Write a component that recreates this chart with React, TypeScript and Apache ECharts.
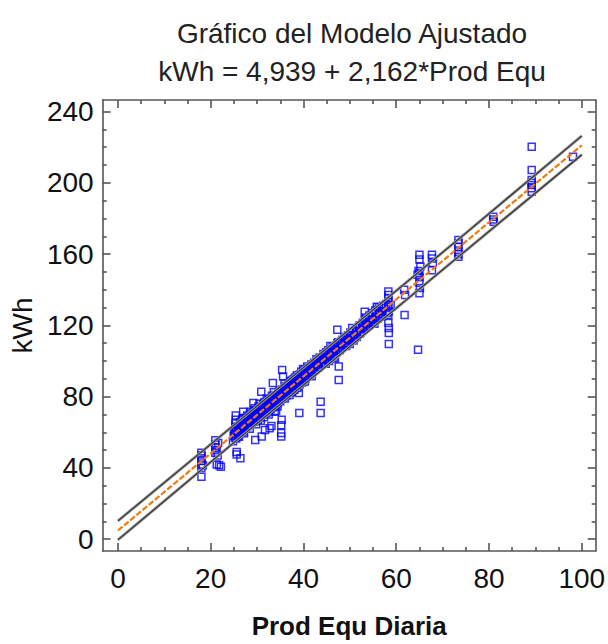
import React, { useEffect, useRef } from "react";
import * as echarts from "echarts";

// ---- data ----
const titleLines = ["Gráfico del Modelo Ajustado", "kWh = 4,939 + 2,162*Prod Equ"];
const xName = "Prod Equ Diaria";
const yName = "kWh";

const xMajorTicks = [0, 20, 40, 60, 80, 100];
const xMinorTicks = [5, 10, 15, 25, 30, 35, 45, 50, 55, 65, 70, 75, 85, 90, 95];
const yMajorTicks = [0, 40, 80, 120, 160, 200, 240];
const yMinorTicks = [10, 20, 30, 50, 60, 70, 90, 100, 110, 130, 140, 150, 170, 180, 190, 210, 220, 230];

// fitted model line
const fitX = [0, 100];
const fitY = [4.9, 221.1];

// prediction limits
const bandX = [0, 25, 50, 75, 100];
const bandUpper = [10.3, 64.0, 117.9, 171.8, 226.4];
const bandLower = [-0.4, 54.2, 108.1, 162.0, 215.8];

// observations [Prod Equ Diaria, kWh]
const observations: [number, number][] = [
  [18, 35], [18, 40], [18, 42], [18, 44], [18, 45.5], [18, 47], [18, 48.5], [18.3, 41.5],
  [21, 55.5], [21, 53], [21, 51.5], [21.3, 50], [21, 48.5], [21.5, 47], [21.3, 42], [22.2, 40.7], [21.8, 41.5], [21.6, 54],
  [24.8, 55], [25.2, 57], [25.3, 59], [25.3, 61], [25.3, 63], [25.3, 65], [25.4, 67], [25.4, 69.5], [25.6, 49], [25.6, 47.5],
  [26.4, 45.5], [25.9, 58], [26, 60.5], [26.2, 62.5], [26.5, 60], [26.6, 64], [26.8, 66], [27, 62], [27, 68], [27, 71.5],
  [27.4, 64.5], [27.6, 66.5], [27.8, 63], [28, 67], [28.2, 69], [28.3, 65.5], [28.6, 70.5], [28.8, 67.5], [26.1, 57.5], [27.2, 59.5],
  [29, 68], [29.2, 70], [29.2, 76.5], [29.4, 66], [29.6, 55.7], [29.7, 72], [30, 69], [30, 71.5], [30.2, 67], [30.4, 73],
  [30.6, 70], [30.9, 82.8], [31, 57.6], [31, 74], [31.2, 71], [31.4, 76], [31.7, 61.3], [31.8, 73], [32, 75.5], [32.2, 72.5],
  [32.4, 78], [32.7, 62.3], [32.8, 75], [33, 77], [33.1, 63.5], [33.3, 74], [33.4, 87.7], [33.5, 79.5], [33.8, 71.6], [33.8, 76.5],
  [34, 81], [34.2, 78], [34.4, 74.5], [34.6, 80], [34.8, 83], [35, 77.5], [35.2, 59.6], [35.2, 57.6], [35.2, 64], [35.3, 67],
  [35.4, 95], [35.6, 91.3], [35.5, 81.5], [35.8, 84], [36, 79], [36.2, 86], [36.4, 82], [36.6, 84.5], [36.8, 87.5], [37, 81],
  [37.2, 85.5], [37.4, 89], [37.6, 83], [37.8, 87], [38, 90], [38.2, 85], [38.4, 88.5], [38.6, 92], [38.8, 86.5], [39, 82],
  [39.1, 70.9], [39, 89.5], [39.3, 91], [39.5, 94], [39.7, 88], [40, 92.5], [40.2, 95], [40.4, 90], [40.6, 93.5], [40.8, 97],
  [29.8, 64.5], [30.5, 76], [31.5, 68.5], [32.5, 70], [33.2, 80.5], [34.1, 72], [34.9, 78.5], [35.9, 87.5], [36.9, 83.5], [37.9, 84],
  [28.4, 62], [29.5, 73.5], [30.8, 66.5], [32.1, 79], [33.6, 82.5], [34.5, 76.5], [36.1, 81], [37.1, 88.5], [38.5, 86], [39.8, 90.5],
  [25, 58], [25, 60], [25.5, 62.5], [25.5, 56.5], [26, 63], [26, 59.5], [26.3, 65.5], [26.3, 61], [26.7, 62], [26.7, 67],
  [27.1, 64], [27.1, 60.5], [27.5, 68], [27.5, 62.5], [27.9, 65.5], [27.9, 69.5], [28.1, 64], [28.1, 68], [28.5, 66], [28.5, 71.5],
  [28.9, 70], [28.9, 66.5], [29.3, 69], [29.3, 72], [29.6, 67.5], [29.6, 71], [30.1, 72.5], [30.1, 68], [30.3, 70.5], [30.3, 74.5],
  [30.7, 72], [30.7, 68.5], [31.1, 73], [31.1, 70], [31.3, 75.5], [31.3, 71.5], [31.6, 72.5], [31.6, 77], [32, 73.5], [32, 71],
  [32.3, 76], [32.3, 74], [32.6, 75], [32.6, 78.5], [32.9, 77.5], [32.9, 73], [33.1, 75.5], [33.1, 79], [33.5, 77], [33.5, 74.5],
  [33.9, 79], [33.9, 75], [34.3, 80.5], [34.3, 77], [34.7, 78], [34.7, 82], [35.1, 80], [35.1, 83.5], [35.4, 79], [35.4, 84],
  [35.7, 82.5], [35.7, 80], [36, 83], [36, 85], [36.3, 80.5], [36.3, 84], [36.7, 86], [36.7, 82], [37, 84], [37, 87],
  [37.3, 82.5], [37.3, 86.5], [37.7, 85.5], [37.7, 89.5], [38.1, 87.5], [38.1, 84], [38.3, 91], [38.3, 86.5], [38.7, 89], [38.7, 85],
  [39.2, 87], [39.2, 92.5], [39.6, 89.5], [39.6, 92], [39.9, 91], [39.9, 95.5], [40.3, 93], [40.3, 88.5], [40.7, 91.5], [40.7, 95],
  [41.5, 94], [42, 96.5], [42.3, 99], [42.6, 97], [43, 100], [43.3, 98], [43.7, 77.2], [43.7, 70.9], [43.5, 102], [44, 100.5],
  [44.3, 104], [44.6, 101], [45, 103.5], [45.3, 106], [45.6, 102.5], [46, 105], [46.3, 108], [46.6, 104], [47, 107], [47.3, 110],
  [47.6, 96.9], [47.6, 89.4], [47.8, 106], [48, 109.5], [48.4, 112], [47.3, 117.5], [41.8, 91.5], [44.8, 98.5], [46.8, 101.5], [45.8, 108.5],
  [41, 93], [41, 96], [41.3, 95.5], [41.3, 92], [41.7, 96], [41.7, 98], [42.2, 95], [42.2, 97.5], [42.8, 98.5], [42.8, 101],
  [43.2, 99.5], [43.2, 96.5], [43.8, 101.5], [43.8, 98], [44.2, 102], [44.2, 99], [44.9, 101.5], [44.9, 105], [45.5, 104.5], [45.5, 100],
  [45.9, 103], [45.9, 106.5], [46.5, 106], [46.5, 102], [47.1, 105], [47.1, 108.5], [47.5, 106.5], [47.5, 110.5], [48.2, 107.5], [48.2, 111],
  [49, 110], [49.4, 113], [49.8, 111.5], [50, 109.6], [50.3, 114], [50.5, 118.6], [51, 113], [51.3, 117], [51.6, 115], [52, 118.5],
  [52.3, 116], [52.6, 120], [53, 118], [53.2, 123], [53.2, 127.7], [53.6, 121], [54, 120], [54.3, 123.5], [54.6, 122], [55, 125],
  [55.3, 121], [55.6, 127], [56, 124], [56.4, 128], [56.8, 125], [56.8, 129.8], [57.2, 131], [55.8, 130.5],
  [48.8, 109], [48.8, 113.5], [49.2, 112], [49.2, 108.5], [49.6, 114.5], [49.6, 110], [50.1, 112.5], [50.1, 116], [50.8, 114.5], [50.8, 111.5],
  [51.5, 116.5], [51.5, 113.5], [52.1, 115.5], [52.1, 120], [52.8, 118.5], [52.8, 121.5], [53.4, 119], [53.4, 124.5], [54.2, 121.5], [54.2, 125.5],
  [54.9, 123], [54.9, 127], [55.5, 124], [55.5, 128.5], [56.2, 126.5], [56.2, 130], [57, 128], [57, 126],
  [58.3, 139], [58.3, 137], [58.3, 135.4], [58.3, 133], [58.3, 130.5], [58.4, 128], [58.3, 125.9], [58.3, 121.4], [58.4, 118.6], [58.4, 115.8],
  [58.4, 109.6], [57.8, 132], [58, 127], [58.8, 131.5],
  [61.8, 125.8], [61.7, 140], [61.9, 137],
  [65, 159.6], [65, 157], [65.2, 153], [64.8, 150.5], [65, 149.4], [65, 147], [64.6, 148.4], [65, 144], [65.1, 141], [65, 138], [64.7, 106.3],
  [67.7, 159.6], [67.7, 157.5], [67.9, 155], [67.7, 151],
  [73.4, 168], [73.4, 166], [73.4, 164.2], [73.4, 161.4], [73.4, 160], [73.4, 158.6],
  [80.9, 181], [80.9, 179.5], [81, 178.2],
  [89.2, 220.3], [89.2, 207.2], [89.2, 201.6], [89.2, 200], [89.2, 198.8], [89.2, 197], [89.2, 195],
  [98.1, 214.7],
];

const FONT = "'Liberation Sans', Arial, sans-serif";
const FRAME = "#555555";

export default function App() {
  const ref = useRef<HTMLDivElement>(null);
  useEffect(() => {
    if (!ref.current) return;
    const chart = echarts.init(ref.current, null, { renderer: "svg" });

    const lineStyle = { color: FRAME, width: 1.6 };
    const base = (min: number, max: number) => ({
      type: "value" as const,
      min,
      max,
      gridIndex: 0,
      splitLine: { show: false },
    });
    const xRange = [-3.3, 103] as const;
    const yRange = [-6.6, 246.5] as const;

    const xAxes = [
      {
        ...base(xRange[0], xRange[1]),
        position: "bottom",
        name: xName,
        nameLocation: "middle",
        nameGap: 62,
        nameTextStyle: { fontFamily: FONT, fontSize: 26, fontWeight: "bold", color: "#111" },
        axisLine: { show: true, onZero: false, lineStyle },
        axisTick: { show: true, inside: true, length: 8, customValues: xMajorTicks, lineStyle },
        axisLabel: { show: true, customValues: xMajorTicks, margin: 13, fontFamily: FONT, fontSize: 28, color: "#111" },
      },
      {
        ...base(xRange[0], xRange[1]),
        position: "bottom",
        axisLine: { show: false, onZero: false },
        axisTick: { show: true, inside: true, length: 4, customValues: xMinorTicks, lineStyle },
        axisLabel: { show: false },
      },
      {
        ...base(xRange[0], xRange[1]),
        position: "top",
        axisLine: { show: true, onZero: false, lineStyle },
        axisTick: { show: true, inside: true, length: 8, customValues: xMajorTicks, lineStyle },
        axisLabel: { show: false },
      },
      {
        ...base(xRange[0], xRange[1]),
        position: "top",
        axisLine: { show: false, onZero: false },
        axisTick: { show: true, inside: true, length: 4, customValues: xMinorTicks, lineStyle },
        axisLabel: { show: false },
      },
    ];
    const yAxes = [
      {
        ...base(yRange[0], yRange[1]),
        position: "left",
        name: yName,
        nameLocation: "middle",
        nameGap: 60,
        nameTextStyle: { fontFamily: FONT, fontSize: 28, color: "#111" },
        axisLine: { show: true, onZero: false, lineStyle },
        axisTick: { show: true, inside: true, length: 8, customValues: yMajorTicks, lineStyle },
        axisLabel: { show: true, customValues: yMajorTicks, margin: 9, fontFamily: FONT, fontSize: 28, color: "#111" },
      },
      {
        ...base(yRange[0], yRange[1]),
        position: "left",
        axisLine: { show: false, onZero: false },
        axisTick: { show: true, inside: true, length: 4, customValues: yMinorTicks, lineStyle },
        axisLabel: { show: false },
      },
      {
        ...base(yRange[0], yRange[1]),
        position: "right",
        axisLine: { show: true, onZero: false, lineStyle },
        axisTick: { show: true, inside: true, length: 8, customValues: yMajorTicks, lineStyle },
        axisLabel: { show: false },
      },
      {
        ...base(yRange[0], yRange[1]),
        position: "right",
        axisLine: { show: false, onZero: false },
        axisTick: { show: true, inside: true, length: 4, customValues: yMinorTicks, lineStyle },
        axisLabel: { show: false },
      },
    ];

    const bandSeries = (vals: number[], color: string, width: number, z: number) => ({
      type: "line",
      xAxisIndex: 0,
      yAxisIndex: 0,
      data: bandX.map((x, i) => [x, vals[i]]),
      symbol: "none",
      silent: true,
      lineStyle: { color, width },
      z,
    });

    chart.setOption({
      animation: false,
      backgroundColor: "#ffffff",
      title: {
        text: titleLines.join("\n"),
        left: 347,
        top: 9,
        textAlign: "center",
        textStyle: { fontFamily: FONT, fontSize: 28, fontWeight: "normal", color: "#222", lineHeight: 38 },
      },
      grid: { left: 97, top: 100, width: 500, height: 451, containLabel: false },
      xAxis: xAxes,
      yAxis: yAxes,
      series: [
        {
          type: "scatter",
          xAxisIndex: 0,
          yAxisIndex: 0,
          symbol: "rect",
          symbolSize: 7,
          itemStyle: { color: "rgba(0,0,0,0)", borderColor: "#0000ff", borderWidth: 1.5 },
          data: observations,
          z: 2,
        },
        bandSeries(bandUpper, "#9a9a9a", 3, 3),
        bandSeries(bandLower, "#9a9a9a", 3, 3),
        bandSeries(bandUpper, "#2e2e2e", 1.1, 4),
        bandSeries(bandLower, "#2e2e2e", 1.1, 4),
        {
          type: "line",
          xAxisIndex: 0,
          yAxisIndex: 0,
          data: fitX.map((x, i) => [x, fitY[i]]),
          symbol: "none",
          lineStyle: { color: "#f07a10", width: 2.2, type: [6, 2] },
          z: 5,
        },
      ],
    });
    return () => chart.dispose();
  }, []);
  return <div ref={ref} style={{ width: 608, height: 644, position: "absolute", left: 0, top: 0 }} />;
}
